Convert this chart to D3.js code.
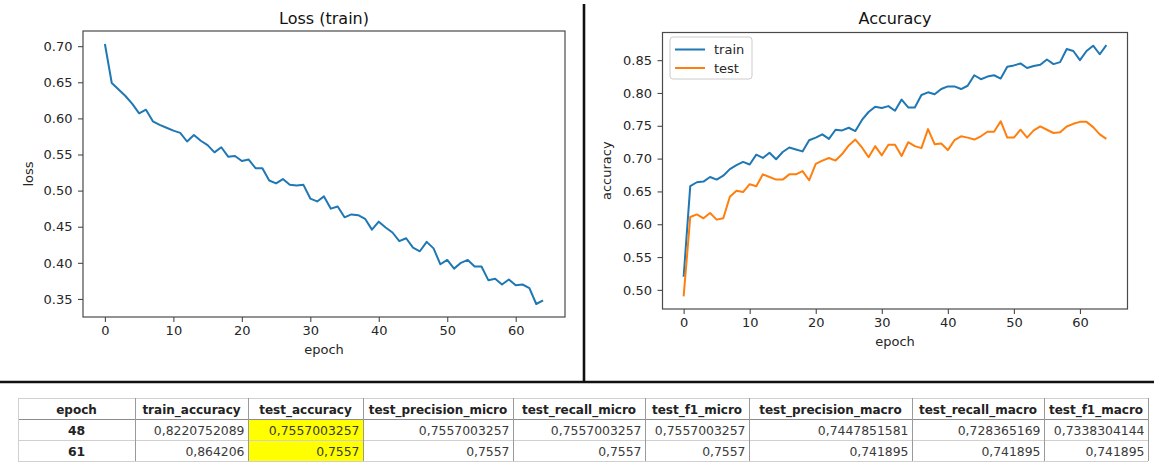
<!DOCTYPE html>
<html>
<head>
<meta charset="utf-8">
<script src="https://cdn.jsdelivr.net/npm/d3@7"></script>
<style>
  html, body { margin: 0; padding: 0; background: #fff; }
  svg { display: block; }
</style>
</head>
<body>
<svg id="chart" width="1154" height="462"></svg>
<script>
// ---------------- DATA ----------------
const lossTrain = [
  0.703, 0.649, 0.640, 0.631, 0.620, 0.607, 0.612, 0.596, 0.591, 0.587,
  0.583, 0.580, 0.568, 0.577, 0.569, 0.563, 0.553, 0.560, 0.547, 0.548,
  0.541, 0.543, 0.531, 0.531, 0.514, 0.510, 0.516, 0.508, 0.507, 0.508,
  0.489, 0.485, 0.492, 0.475, 0.478, 0.463, 0.467, 0.466, 0.461, 0.446,
  0.457, 0.449, 0.442, 0.430, 0.434, 0.421, 0.416, 0.429, 0.420, 0.398,
  0.404, 0.392, 0.400, 0.404, 0.395, 0.395, 0.376, 0.378, 0.370, 0.377,
  0.369, 0.370, 0.365, 0.343, 0.348
];
const accTrain = [
  0.520, 0.658, 0.664, 0.665, 0.672, 0.668, 0.674, 0.684, 0.690, 0.695,
  0.691, 0.706, 0.701, 0.709, 0.699, 0.710, 0.717, 0.714, 0.711, 0.728,
  0.732, 0.737, 0.730, 0.744, 0.743, 0.747, 0.742, 0.759, 0.771, 0.779,
  0.777, 0.780, 0.773, 0.790, 0.778, 0.778, 0.797, 0.801, 0.798, 0.806,
  0.810, 0.810, 0.806, 0.811, 0.827, 0.821, 0.825, 0.827, 0.822, 0.840,
  0.842, 0.845, 0.838, 0.841, 0.843, 0.851, 0.844, 0.847, 0.867, 0.864,
  0.850, 0.864, 0.872, 0.859, 0.873
];
const accTest = [
  0.490, 0.611, 0.615, 0.609, 0.617, 0.607, 0.609, 0.642, 0.651, 0.649,
  0.661, 0.658, 0.676, 0.672, 0.668, 0.668, 0.676, 0.676, 0.681, 0.667,
  0.692, 0.697, 0.701, 0.697, 0.707, 0.720, 0.729, 0.717, 0.702, 0.719,
  0.705, 0.721, 0.721, 0.704, 0.725, 0.719, 0.716, 0.745, 0.722, 0.723,
  0.713, 0.728, 0.734, 0.732, 0.729, 0.734, 0.741, 0.741, 0.757, 0.732,
  0.732, 0.744, 0.732, 0.743, 0.749, 0.744, 0.739, 0.740, 0.749, 0.753,
  0.756, 0.756, 0.748, 0.737, 0.730
];
const seriesNames = ["train", "test"];
const seriesColors = ["#1f77b4", "#ff7f0e"];
const epochTicks = [0, 10, 20, 30, 40, 50, 60];
const lossTicks = [0.35, 0.40, 0.45, 0.50, 0.55, 0.60, 0.65, 0.70];
const accTicks = [0.50, 0.55, 0.60, 0.65, 0.70, 0.75, 0.80, 0.85];

const tableHeaders = ["epoch", "train_accuracy", "test_accuracy", "test_precision_micro",
  "test_recall_micro", "test_f1_micro", "test_precision_macro", "test_recall_macro", "test_f1_macro"];
const tableRow1 = ["48", "0,8220752089", "0,7557003257", "0,7557003257", "0,7557003257",
  "0,7557003257", "0,7447851581", "0,728365169", "0,7338304144"];
const tableRow2 = ["61", "0,864206", "0,7557", "0,7557", "0,7557", "0,7557",
  "0,741895", "0,741895", "0,741895"];
const highlightCol = "test_accuracy";

// ---------------- DRAW ----------------
const svg = d3.select("#chart");
svg.append("rect").attr("width", 1154).attr("height", 462).attr("fill", "#fff");

const FONT = "DejaVu Sans, sans-serif";
const TXT = "#262626";

function drawPanel(cfg) {
  const n = cfg.series[0].length;
  const idx = cfg.series[0].map((_, i) => i);
  const xPad = (n - 1) * 0.05;
  const x = d3.scaleLinear().domain([-xPad, (n - 1) + xPad]).range([cfg.left, cfg.right]);
  const all = cfg.series.flat();
  const lo = d3.min(all), hi = d3.max(all), yPad = (hi - lo) * 0.05;
  const y = d3.scaleLinear().domain([lo - yPad, hi + yPad]).range([cfg.bottom, cfg.top]);

  const g = svg.append("g");

  const line = d3.line().x((d, i) => x(idx[i])).y(d => y(d));
  cfg.series.forEach((s, k) => {
    g.append("path").datum(s).attr("d", line)
      .attr("fill", "none").attr("stroke", seriesColors[k])
      .attr("stroke-width", 2).attr("stroke-linejoin", "round");
  });

  // spines
  g.append("rect").attr("x", cfg.left).attr("y", cfg.top)
    .attr("width", cfg.right - cfg.left).attr("height", cfg.bottom - cfg.top)
    .attr("fill", "none").attr("stroke", "#4a4a4a").attr("stroke-width", 1.2);

  const xa = g.append("g").attr("transform", `translate(0,${cfg.bottom})`)
    .call(d3.axisBottom(x).tickValues(epochTicks).tickFormat(d3.format("d")).tickSize(5).tickPadding(4));
  const ya = g.append("g").attr("transform", `translate(${cfg.left},0)`)
    .call(d3.axisLeft(y).tickValues(cfg.yTicks).tickFormat(d3.format(".2f")).tickSize(5).tickPadding(5.5));
  [xa, ya].forEach(a => {
    a.select(".domain").remove();
    a.selectAll("line").attr("stroke", "#4a4a4a").attr("stroke-width", 1.1);
    a.selectAll("text").attr("font-family", FONT).attr("font-size", 13).attr("fill", TXT);
  });

  // title
  g.append("text").attr("x", (cfg.left + cfg.right) / 2).attr("y", 24)
    .attr("text-anchor", "middle").attr("font-family", FONT).attr("font-size", 16)
    .attr("fill", "#111").text(cfg.title);
  // x label
  g.append("text").attr("x", (cfg.left + cfg.right) / 2).attr("y", cfg.xlabelY)
    .attr("text-anchor", "middle").attr("font-family", FONT).attr("font-size", 13)
    .attr("fill", TXT).text("epoch");
  // y label
  g.append("text").attr("transform", `translate(${cfg.ylabelX},${(cfg.top + cfg.bottom) / 2}) rotate(-90)`)
    .attr("text-anchor", "middle").attr("font-family", FONT).attr("font-size", 13)
    .attr("fill", TXT).text(cfg.ylabel);

  if (cfg.legend) {
    const lg = g.append("g").attr("transform", `translate(${cfg.left + 7.5},${cfg.top + 4.5})`);
    lg.append("rect").attr("width", 82).attr("height", 42).attr("rx", 3)
      .attr("fill", "#fff").attr("fill-opacity", 0.8).attr("stroke", "#cccccc");
    seriesNames.forEach((nm, k) => {
      const yy = 12.5 + k * 18.5;
      lg.append("line").attr("x1", 5).attr("x2", 35).attr("y1", yy).attr("y2", yy)
        .attr("stroke", seriesColors[k]).attr("stroke-width", 2);
      lg.append("text").attr("x", 44).attr("y", yy).attr("dy", "0.35em")
        .attr("font-family", FONT).attr("font-size", 13).attr("fill", TXT).text(nm);
    });
  }
}

drawPanel({
  left: 83, right: 565, top: 31, bottom: 317,
  series: [lossTrain], yTicks: lossTicks,
  title: "Loss (train)", ylabel: "loss", ylabelX: 33, xlabelY: 354, legend: false
});
drawPanel({
  left: 662.5, right: 1127.5, top: 32.5, bottom: 309,
  series: [accTrain, accTest], yTicks: accTicks,
  title: "Accuracy", ylabel: "accuracy", ylabelX: 611, xlabelY: 346, legend: true
});

// divider lines
svg.append("line").attr("x1", 584).attr("x2", 584).attr("y1", 4).attr("y2", 382)
  .attr("stroke", "#111").attr("stroke-width", 2.6);
svg.append("line").attr("x1", 0).attr("x2", 1154).attr("y1", 382).attr("y2", 382)
  .attr("stroke", "#111").attr("stroke-width", 2.6);

// ---------------- TABLE ----------------
const colEdges = [18, 135, 248, 363, 513, 645, 749, 912, 1044, 1148];
const rowEdges = [398, 419, 440, 461];
const tg = svg.append("g");
const hIdx = tableHeaders.indexOf(highlightCol);
tg.append("rect").attr("x", colEdges[hIdx]).attr("y", rowEdges[1])
  .attr("width", colEdges[hIdx + 1] - colEdges[hIdx]).attr("height", rowEdges[3] - rowEdges[1])
  .attr("fill", "#ffff00");

rowEdges.forEach((ry, i) => {
  tg.append("line").attr("x1", colEdges[0]).attr("x2", colEdges[colEdges.length - 1])
    .attr("y1", ry + 0.5).attr("y2", ry + 0.5)
    .attr("stroke", i === 1 ? "#8c8c8c" : "#d0d0d0").attr("stroke-width", 1);
});
colEdges.forEach((cx, i) => {
  tg.append("line").attr("x1", cx + 0.5).attr("x2", cx + 0.5)
    .attr("y1", rowEdges[0]).attr("y2", rowEdges[3])
    .attr("stroke", (i === 0) ? "#d0d0d0" : "#9a9a9a").attr("stroke-width", 1);
});

tableHeaders.forEach((h, j) => {
  tg.append("text").attr("x", (colEdges[j] + colEdges[j + 1]) / 2).attr("y", 413.5)
    .attr("text-anchor", "middle").attr("font-family", FONT).attr("font-weight", "bold")
    .attr("font-size", 12).attr("fill", "#222").text(h);
});
[tableRow1, tableRow2].forEach((row, r) => {
  const by = [434.5, 455.5][r];
  row.forEach((v, j) => {
    const t = tg.append("text").attr("y", by).attr("fill", "#3a3a3a")
      .attr("font-family", FONT).attr("font-size", 12.4);
    if (j === 0) {
      t.attr("x", (colEdges[0] + colEdges[1]) / 2).attr("text-anchor", "middle")
        .attr("font-weight", "bold").attr("fill", "#222");
    } else {
      t.attr("x", colEdges[j + 1] - 3.5).attr("text-anchor", "end");
    }
    t.text(v);
  });
});
</script>
</body>
</html>
